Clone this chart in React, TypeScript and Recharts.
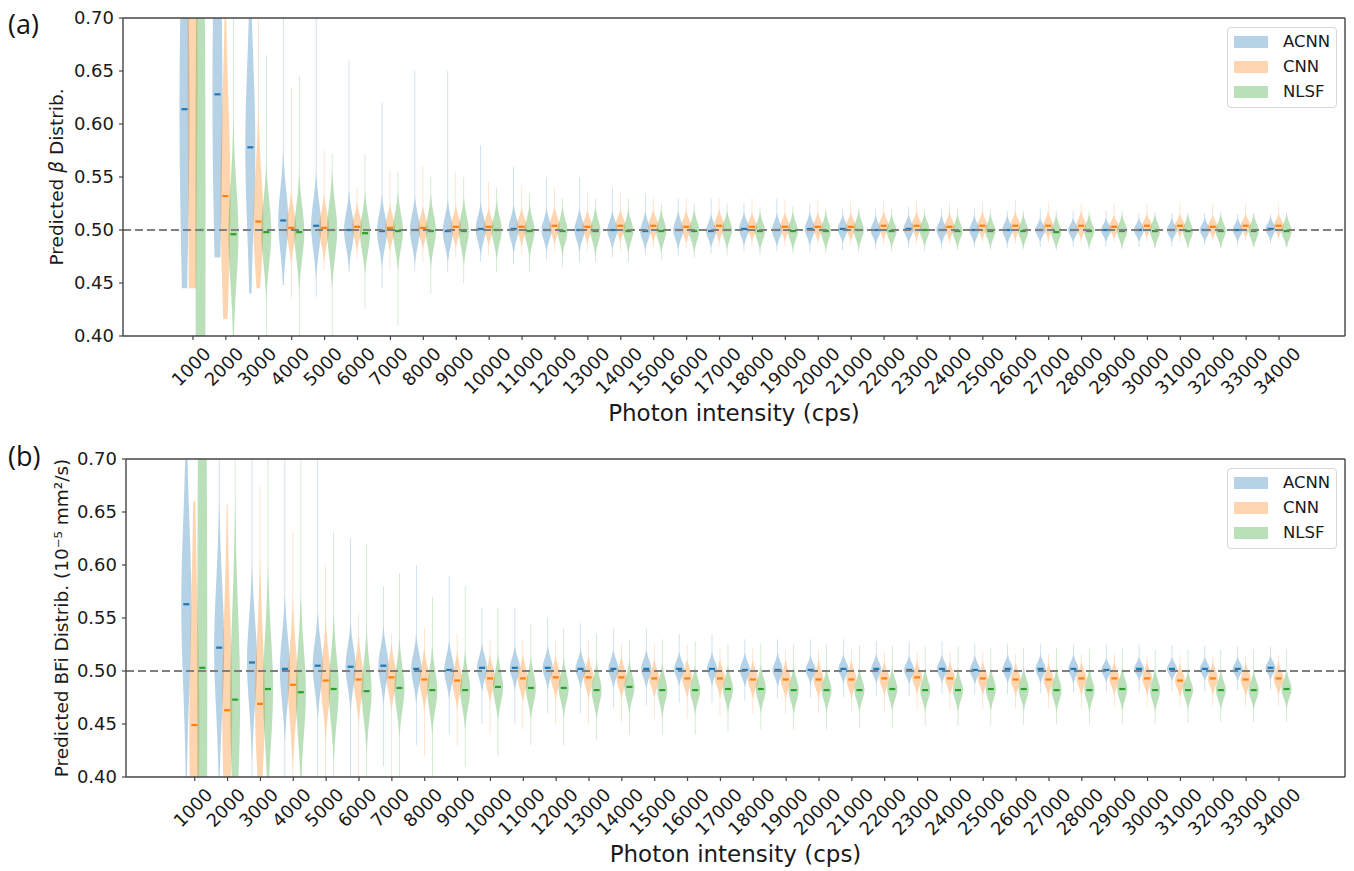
import { ComposedChart, Bar, XAxis, YAxis, ReferenceLine } from 'recharts'

// photon intensities (cps) on the x axis
const intensities = [
  '1000', '2000', '3000', '4000', '5000', '6000', '7000', '8000', '9000', '10000',
  '11000', '12000', '13000', '14000', '15000', '16000', '17000', '18000', '19000', '20000',
  '21000', '22000', '23000', '24000', '25000', '26000', '27000', '28000', '29000', '30000',
  '31000', '32000', '33000', '34000',
]
const yTicks = [0.4, 0.45, 0.5, 0.55, 0.6, 0.65, 0.7]
const truth = 0.5

// (a) predicted beta: median, spread of the body, lowest and highest sample
const betaAcnnMed = [0.614, 0.628, 0.578, 0.509, 0.504, 0.500, 0.499, 0.500, 0.499, 0.501, 0.501, 0.500, 0.500, 0.500, 0.499, 0.500, 0.499, 0.501, 0.500, 0.501, 0.501, 0.500, 0.501, 0.500, 0.500, 0.500, 0.500, 0.500, 0.500, 0.500, 0.500, 0.500, 0.500, 0.501]
const betaAcnnSd = [0.15, 0.15, 0.08, 0.028, 0.022, 0.016, 0.015, 0.014, 0.013, 0.011, 0.010, 0.009, 0.009, 0.008, 0.008, 0.008, 0.007, 0.007, 0.007, 0.007, 0.006, 0.006, 0.006, 0.006, 0.006, 0.006, 0.005, 0.005, 0.005, 0.005, 0.005, 0.005, 0.005, 0.005]
const betaAcnnLo = [0.445, 0.474, 0.440, 0.448, 0.437, 0.460, 0.445, 0.461, 0.460, 0.470, 0.468, 0.472, 0.470, 0.474, 0.476, 0.476, 0.478, 0.480, 0.480, 0.479, 0.481, 0.482, 0.483, 0.482, 0.484, 0.483, 0.484, 0.485, 0.485, 0.484, 0.485, 0.486, 0.486, 0.487]
const betaAcnnHi = [0.90, 0.90, 0.85, 0.70, 0.70, 0.66, 0.62, 0.65, 0.65, 0.58, 0.56, 0.55, 0.55, 0.54, 0.535, 0.53, 0.53, 0.525, 0.53, 0.525, 0.52, 0.52, 0.522, 0.52, 0.52, 0.518, 0.52, 0.518, 0.518, 0.516, 0.516, 0.516, 0.515, 0.515]

const betaCnnMed = [0.72, 0.532, 0.508, 0.502, 0.502, 0.503, 0.502, 0.502, 0.503, 0.503, 0.503, 0.504, 0.503, 0.504, 0.504, 0.503, 0.504, 0.503, 0.503, 0.503, 0.503, 0.504, 0.504, 0.503, 0.504, 0.504, 0.504, 0.504, 0.503, 0.504, 0.504, 0.503, 0.504, 0.504]
const betaCnnSd = [0.35, 0.09, 0.045, 0.015, 0.014, 0.010, 0.010, 0.009, 0.009, 0.008, 0.008, 0.008, 0.007, 0.007, 0.007, 0.007, 0.007, 0.006, 0.006, 0.006, 0.006, 0.006, 0.006, 0.006, 0.006, 0.006, 0.006, 0.006, 0.005, 0.005, 0.005, 0.005, 0.005, 0.005]
const betaCnnLo = [0.445, 0.416, 0.445, 0.435, 0.462, 0.473, 0.462, 0.470, 0.474, 0.476, 0.478, 0.480, 0.480, 0.480, 0.482, 0.483, 0.484, 0.484, 0.485, 0.486, 0.486, 0.486, 0.487, 0.487, 0.488, 0.487, 0.488, 0.488, 0.489, 0.489, 0.489, 0.490, 0.490, 0.490]
const betaCnnHi = [0.90, 0.90, 0.70, 0.635, 0.575, 0.54, 0.556, 0.56, 0.555, 0.545, 0.54, 0.54, 0.535, 0.535, 0.53, 0.53, 0.53, 0.53, 0.528, 0.528, 0.527, 0.527, 0.527, 0.526, 0.526, 0.528, 0.525, 0.525, 0.525, 0.525, 0.525, 0.524, 0.524, 0.524]

const betaNlsfMed = [0.500, 0.496, 0.498, 0.498, 0.500, 0.497, 0.499, 0.499, 0.499, 0.500, 0.499, 0.499, 0.499, 0.499, 0.499, 0.499, 0.500, 0.499, 0.499, 0.499, 0.500, 0.499, 0.500, 0.499, 0.499, 0.499, 0.498, 0.499, 0.499, 0.499, 0.499, 0.499, 0.499, 0.499]
const betaNlsfSd = [0.4, 0.045, 0.028, 0.024, 0.024, 0.017, 0.016, 0.015, 0.014, 0.012, 0.011, 0.010, 0.010, 0.009, 0.009, 0.009, 0.008, 0.008, 0.008, 0.008, 0.008, 0.007, 0.007, 0.007, 0.007, 0.007, 0.007, 0.007, 0.007, 0.007, 0.007, 0.007, 0.007, 0.007]
const betaNlsfLo = [0.10, 0.30, 0.38, 0.40, 0.40, 0.425, 0.41, 0.44, 0.45, 0.46, 0.46, 0.465, 0.47, 0.47, 0.472, 0.474, 0.476, 0.477, 0.478, 0.478, 0.479, 0.48, 0.48, 0.481, 0.481, 0.482, 0.481, 0.482, 0.482, 0.483, 0.483, 0.483, 0.484, 0.484]
const betaNlsfHi = [0.90, 0.72, 0.665, 0.645, 0.572, 0.572, 0.555, 0.55, 0.55, 0.54, 0.535, 0.53, 0.53, 0.53, 0.525, 0.525, 0.525, 0.522, 0.522, 0.52, 0.52, 0.52, 0.52, 0.52, 0.519, 0.518, 0.518, 0.518, 0.518, 0.517, 0.517, 0.517, 0.516, 0.516]

// (b) predicted BFi
const bfiAcnnMed = [0.563, 0.522, 0.508, 0.502, 0.505, 0.504, 0.505, 0.502, 0.501, 0.503, 0.503, 0.503, 0.502, 0.502, 0.502, 0.502, 0.502, 0.501, 0.501, 0.501, 0.502, 0.502, 0.501, 0.502, 0.501, 0.502, 0.502, 0.502, 0.501, 0.502, 0.502, 0.502, 0.502, 0.503]
const bfiAcnnSd = [0.08, 0.06, 0.04, 0.03, 0.022, 0.018, 0.016, 0.014, 0.012, 0.010, 0.009, 0.009, 0.008, 0.008, 0.008, 0.007, 0.007, 0.007, 0.007, 0.006, 0.006, 0.006, 0.006, 0.006, 0.006, 0.006, 0.006, 0.006, 0.005, 0.005, 0.005, 0.005, 0.005, 0.005]
const bfiAcnnLo = [0.30, 0.30, 0.38, 0.40, 0.40, 0.40, 0.41, 0.43, 0.44, 0.45, 0.45, 0.46, 0.46, 0.465, 0.468, 0.47, 0.47, 0.472, 0.474, 0.475, 0.475, 0.476, 0.476, 0.478, 0.478, 0.478, 0.479, 0.48, 0.48, 0.48, 0.481, 0.481, 0.482, 0.482]
const bfiAcnnHi = [0.90, 0.90, 0.80, 0.75, 0.70, 0.625, 0.58, 0.60, 0.59, 0.56, 0.56, 0.55, 0.545, 0.54, 0.54, 0.535, 0.535, 0.53, 0.53, 0.53, 0.53, 0.528, 0.528, 0.528, 0.526, 0.526, 0.526, 0.525, 0.525, 0.525, 0.524, 0.524, 0.523, 0.523]

const bfiCnnMed = [0.449, 0.463, 0.469, 0.487, 0.491, 0.492, 0.494, 0.492, 0.491, 0.493, 0.493, 0.494, 0.494, 0.494, 0.493, 0.493, 0.493, 0.492, 0.492, 0.492, 0.492, 0.493, 0.494, 0.493, 0.493, 0.492, 0.492, 0.493, 0.493, 0.493, 0.491, 0.493, 0.492, 0.493]
const bfiCnnSd = [0.12, 0.09, 0.06, 0.035, 0.025, 0.018, 0.014, 0.013, 0.012, 0.010, 0.010, 0.009, 0.009, 0.009, 0.008, 0.008, 0.008, 0.008, 0.008, 0.008, 0.008, 0.007, 0.007, 0.007, 0.007, 0.007, 0.007, 0.007, 0.007, 0.007, 0.007, 0.007, 0.007, 0.007]
const bfiCnnLo = [0.30, 0.30, 0.30, 0.39, 0.40, 0.40, 0.40, 0.42, 0.43, 0.44, 0.445, 0.45, 0.45, 0.452, 0.455, 0.455, 0.458, 0.46, 0.46, 0.46, 0.462, 0.462, 0.463, 0.464, 0.464, 0.465, 0.465, 0.465, 0.466, 0.466, 0.466, 0.467, 0.467, 0.467]
const bfiCnnHi = [0.66, 0.657, 0.675, 0.632, 0.60, 0.555, 0.535, 0.54, 0.535, 0.53, 0.53, 0.528, 0.53, 0.525, 0.525, 0.525, 0.522, 0.522, 0.52, 0.52, 0.52, 0.518, 0.518, 0.518, 0.518, 0.516, 0.516, 0.516, 0.516, 0.515, 0.515, 0.515, 0.515, 0.515]

const bfiNlsfMed = [0.503, 0.473, 0.483, 0.480, 0.483, 0.481, 0.484, 0.482, 0.482, 0.485, 0.484, 0.484, 0.482, 0.485, 0.482, 0.482, 0.483, 0.483, 0.482, 0.482, 0.482, 0.483, 0.482, 0.482, 0.483, 0.483, 0.482, 0.482, 0.483, 0.482, 0.482, 0.482, 0.482, 0.483]
const bfiNlsfSd = [0.4, 0.08, 0.05, 0.04, 0.03, 0.025, 0.02, 0.018, 0.016, 0.014, 0.013, 0.012, 0.012, 0.011, 0.011, 0.010, 0.010, 0.010, 0.010, 0.009, 0.009, 0.009, 0.009, 0.009, 0.009, 0.009, 0.009, 0.009, 0.009, 0.009, 0.008, 0.008, 0.008, 0.008]
const bfiNlsfLo = [0.10, 0.30, 0.30, 0.30, 0.35, 0.38, 0.40, 0.40, 0.41, 0.42, 0.43, 0.43, 0.435, 0.44, 0.44, 0.44, 0.442, 0.445, 0.445, 0.445, 0.446, 0.447, 0.448, 0.448, 0.449, 0.449, 0.45, 0.45, 0.45, 0.451, 0.451, 0.452, 0.452, 0.452]
const bfiNlsfHi = [0.90, 0.90, 0.80, 0.70, 0.632, 0.62, 0.592, 0.57, 0.58, 0.56, 0.545, 0.54, 0.535, 0.53, 0.53, 0.528, 0.526, 0.526, 0.525, 0.525, 0.524, 0.524, 0.523, 0.523, 0.522, 0.522, 0.522, 0.521, 0.521, 0.52, 0.52, 0.52, 0.52, 0.52]

interface Stats { med: number[]; sd: number[]; lo: number[]; hi: number[] }

const SERIES = [
  { key: 'acnn', name: 'ACNN', color: '#1f77b4' },
  { key: 'cnn', name: 'CNN', color: '#ff7f0e' },
  { key: 'nlsf', name: 'NLSF', color: '#2ca02c' },
]

const betaStats: Record<string, Stats> = {
  acnn: { med: betaAcnnMed, sd: betaAcnnSd, lo: betaAcnnLo, hi: betaAcnnHi },
  cnn: { med: betaCnnMed, sd: betaCnnSd, lo: betaCnnLo, hi: betaCnnHi },
  nlsf: { med: betaNlsfMed, sd: betaNlsfSd, lo: betaNlsfLo, hi: betaNlsfHi },
}
const bfiStats: Record<string, Stats> = {
  acnn: { med: bfiAcnnMed, sd: bfiAcnnSd, lo: bfiAcnnLo, hi: bfiAcnnHi },
  cnn: { med: bfiCnnMed, sd: bfiCnnSd, lo: bfiCnnLo, hi: bfiCnnHi },
  nlsf: { med: bfiNlsfMed, sd: bfiNlsfSd, lo: bfiNlsfLo, hi: bfiNlsfHi },
}

const Y_MIN = 0.4
const Y_MAX = 0.7
const HALF_W = 5
const TAIL = 0.06
const SPINE = '#444'
const FONT = '"DejaVu Sans", sans-serif'

const clampY = (v: number) => Math.min(Y_MAX, Math.max(Y_MIN, v))

function buildRows(stats: Record<string, Stats>) {
  return intensities.map((cat, i) => {
    const row: Record<string, unknown> = { cat }
    for (const s of SERIES) {
      const st = stats[s.key]
      // visible part of the violin, the rest is outside the axes
      row[s.key] = [clampY(st.lo[i]), clampY(st.hi[i])]
      row[s.key + 'Med'] = st.med[i]
      row[s.key + 'Sd'] = st.sd[i]
    }
    return row
  })
}

// violin body drawn inside the range bar the library positions for us
function violinShape(key: string, color: string) {
  return function Violin(props: any) {
    const { x, y, width, height, payload } = props
    const [a, b] = payload[key] as [number, number]
    const med = payload[key + 'Med'] as number
    const sd = payload[key + 'Sd'] as number
    if (!(b > a)) return <g />
    const toPx = (v: number) => y + ((b - v) / (b - a)) * height
    const cx = x + width / 2
    const n = 160
    const left: string[] = []
    const right: string[] = []
    for (let k = 0; k <= n; k++) {
      const v = a + ((b - a) * k) / n
      const z = (v - med) / sd
      const w = HALF_W * Math.max(Math.exp(-0.5 * z * z), TAIL)
      const py = toPx(v).toFixed(2)
      left.push(`${(cx - w).toFixed(2)},${py}`)
      right.push(`${(cx + w).toFixed(2)},${py}`)
    }
    const d = 'M' + left.join('L') + 'L' + right.reverse().join('L') + 'Z'
    const my = toPx(med)
    return (
      <g>
        <path d={d} fill={color} fillOpacity={0.33} stroke="none" />
        {med >= Y_MIN && med <= Y_MAX && (
          <line x1={cx - 3} x2={cx + 3} y1={my} y2={my} stroke={color} strokeWidth={2.2} />
        )}
      </g>
    )
  }
}

function RotTick(props: any) {
  const { x, y, payload } = props
  const label = String(payload.value)
  const fs = 18
  const w = label.length * 0.636 * fs
  const h = fs * 1.16
  const dy = (w + h) / (2 * Math.SQRT2)
  return (
    <text
      transform={`translate(${x - 2},${y + dy}) rotate(-45)`}
      textAnchor="middle" dominantBaseline="central"
      fontSize={fs} fontFamily={FONT} fill="#1a1a1a"
    >
      {label}
    </text>
  )
}

interface PanelProps {
  stats: Record<string, Stats>
  top: number
  height: number
  plotLeft: number
  plotTop: number
  plotBottom: number
  padLeft: number
  padRight: number
}

function Panel({ stats, top, height, plotLeft, plotTop, plotBottom, padLeft, padRight }: PanelProps) {
  const rows = buildRows(stats)
  return (
    <div style={{ position: 'absolute', left: 0, top, width: 1354, height }}>
      <ComposedChart
        width={1354} height={height} data={rows} barGap={0}
        margin={{ top: plotTop, right: 9, bottom: 0, left: 0 }}
      >
        <XAxis
          dataKey="cat" interval={0} height={height - plotBottom}
          padding={{ left: padLeft, right: padRight }}
          tick={(p: any) => <RotTick {...p} />}
          tickSize={4} tickMargin={3}
          axisLine={{ stroke: SPINE, strokeWidth: 1.4 }}
          tickLine={{ stroke: SPINE, strokeWidth: 1.2 }}
        />
        <YAxis
          type="number" domain={[Y_MIN, Y_MAX]} ticks={yTicks} width={plotLeft}
          tickFormatter={(v: number) => v.toFixed(2)}
          tick={{ fontSize: 18, fill: '#1a1a1a', fontFamily: FONT }}
          tickSize={4} tickMargin={5}
          axisLine={{ stroke: SPINE, strokeWidth: 1.4 }}
          tickLine={{ stroke: SPINE, strokeWidth: 1.2 }}
        />
        {SERIES.map(s => (
          <Bar
            key={s.key} dataKey={s.key} name={s.name} barSize={8}
            shape={violinShape(s.key, s.color)} isAnimationActive={false}
          />
        ))}
        <ReferenceLine y={truth} stroke="#7f7f7f" strokeWidth={2} strokeDasharray="8 4" />
        <ReferenceLine y={Y_MAX} stroke={SPINE} strokeWidth={1.4} />
      </ComposedChart>
    </div>
  )
}

function LegendBox({ top }: { top: number }) {
  return (
    <div style={{
      position: 'absolute', left: 1227, top, width: 110, height: 81, boxSizing: 'border-box',
      border: '1px solid #d6d6d6', borderRadius: 4, background: 'rgba(255,255,255,0.8)',
    }}>
      {SERIES.map((s, i) => (
        <div key={s.key} style={{ position: 'absolute', left: 6, top: 6 + i * 25, height: 16, display: 'flex', alignItems: 'center' }}>
          <div style={{ width: 34, height: 12, background: s.color, opacity: 0.33 }} />
          <span style={{ marginLeft: 15, fontSize: 16.5, fontFamily: FONT, color: '#1a1a1a', lineHeight: '16px' }}>{s.name}</span>
        </div>
      ))}
    </div>
  )
}

export default function App() {
  return (
    <div style={{ position: 'absolute', left: 0, top: 0, width: 1354, height: 871, background: '#fff', fontFamily: FONT }}>
      <Panel stats={betaStats} top={0} height={440} plotLeft={123} plotTop={18} plotBottom={336} padLeft={53.5} padRight={49.5} />
      <Panel stats={bfiStats} top={440} height={431} plotLeft={126} plotTop={19} plotBottom={337} padLeft={52.3} padRight={49.6} />
      <LegendBox top={27} />
      <LegendBox top={468} />
      <svg width={1354} height={871} style={{ position: 'absolute', left: 0, top: 0, pointerEvents: 'none' }}>
        {/* right-hand spines of both axes boxes */}
        <line x1={1345} x2={1345} y1={18} y2={336} stroke={SPINE} strokeWidth={1.4} />
        <line x1={1345} x2={1345} y1={459} y2={777} stroke={SPINE} strokeWidth={1.4} />
        <text x={8} y={34} fontSize={27} fontFamily='"Open Sans", "Noto Sans", sans-serif' fill="#111">(a)</text>
        <text x={8} y={466} fontSize={27} fontFamily='"Open Sans", "Noto Sans", sans-serif' fill="#111">(b)</text>
        <text transform="translate(56,177) rotate(-90)" textAnchor="middle" dominantBaseline="central" fontSize={18.5} fontFamily={FONT} fill="#1a1a1a">
          Predicted <tspan fontStyle="italic">β</tspan> Distrib.
        </text>
        <text transform="translate(61,618) rotate(-90)" textAnchor="middle" dominantBaseline="central" fontSize={18.5} fontFamily={FONT} fill="#1a1a1a">
          Predicted BFi Distrib. (10⁻⁵ mm²/s)
        </text>
        <text x={734} y={421} textAnchor="middle" fontSize={23} fontFamily={FONT} fill="#1a1a1a">Photon intensity (cps)</text>
        <text x={735.5} y={862} textAnchor="middle" fontSize={23} fontFamily={FONT} fill="#1a1a1a">Photon intensity (cps)</text>
      </svg>
    </div>
  )
}
